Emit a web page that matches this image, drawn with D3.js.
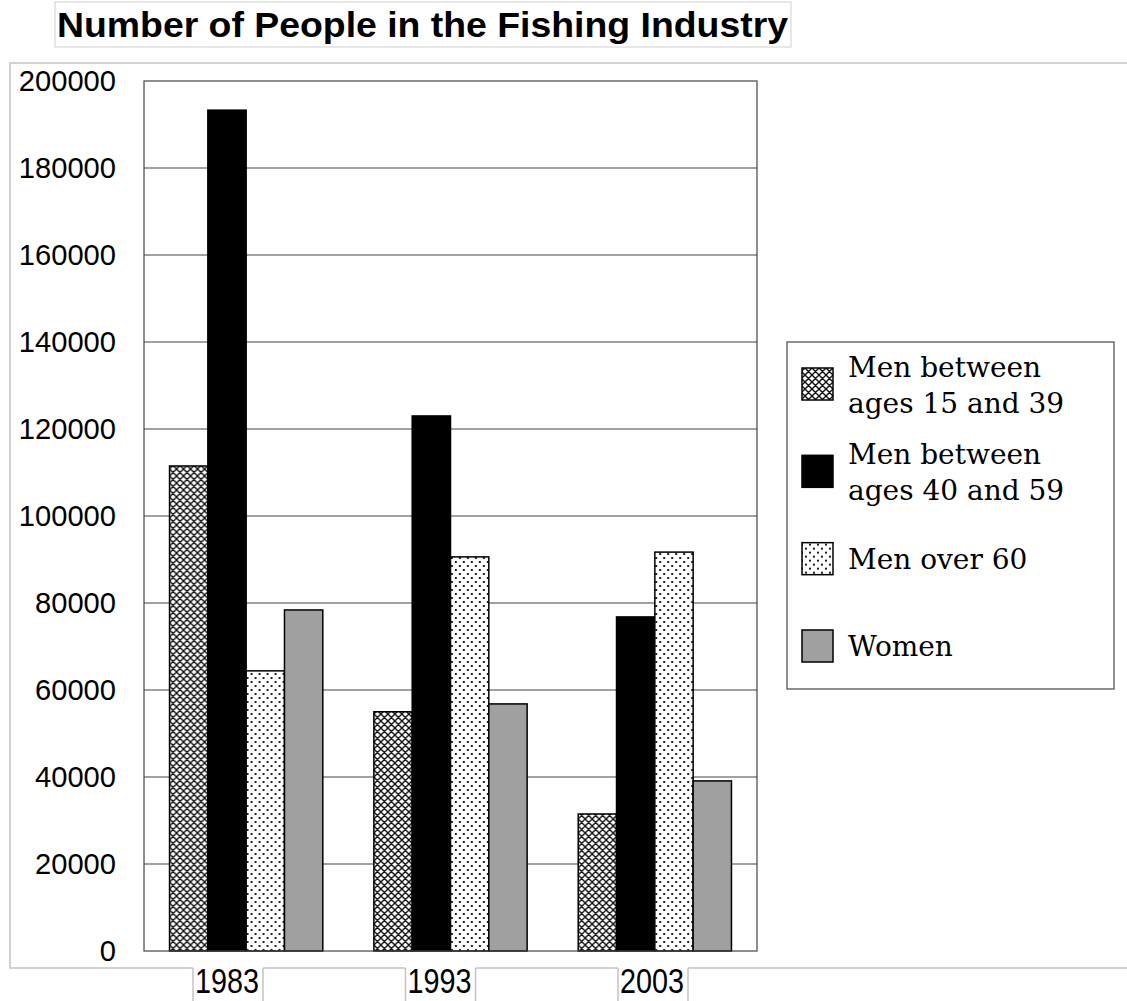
<html>
<head>
<script src="https://d3js.org/d3.v7.min.js"></script>
<style>body{margin:0;background:#fff;}</style>
</head>
<body>
<svg width="1127" height="1001"></svg>
<script>
var years = ["1983", "1993", "2003"];
var seriesNames = ["Men between ages 15 and 39", "Men between ages 40 and 59", "Men over 60", "Women"];
var legendLines = [["Men between", "ages 15 and 39"], ["Men between", "ages 40 and 59"], ["Men over 60"], ["Women"]];
var men15to39 = [111500, 55000, 31500];
var men40to59 = [193300, 123000, 76800];
var menOver60 = [64400, 90600, 91700];
var women = [78400, 56800, 39100];
var yTicks = [0, 20000, 40000, 60000, 80000, 100000, 120000, 140000, 160000, 180000, 200000];

var series = [men15to39, men40to59, menOver60, women];
var fills = ["url(#cross)", "#000", "url(#dots)", "#a0a0a0"];

var svg = d3.select("svg");
var plot = {left: 144, right: 757, top: 81, bottom: 951};

// patterns
var defs = svg.append("defs");
var cross = defs.append("pattern").attr("id", "cross").attr("patternUnits", "userSpaceOnUse")
	.attr("width", 7).attr("height", 7);
cross.append("rect").attr("width", 7).attr("height", 7).attr("fill", "#fff");
cross.append("path").attr("d", "M0,0L7,7M7,0L0,7M-1,6L1,8M6,-1L8,1M-1,1L1,-1M6,8L8,6")
	.attr("stroke", "#111").attr("stroke-width", 1.4);
var dots = defs.append("pattern").attr("id", "dots").attr("patternUnits", "userSpaceOnUse")
	.attr("width", 8).attr("height", 8);
dots.append("rect").attr("width", 8).attr("height", 8).attr("fill", "#fff");
dots.append("rect").attr("x", 1).attr("y", 1).attr("width", 2).attr("height", 2).attr("fill", "#222");
dots.append("rect").attr("x", 5).attr("y", 5).attr("width", 2).attr("height", 2).attr("fill", "#222");

// outer frame and title box
svg.append("path").attr("d", "M1127,63H10V968H1127").attr("fill", "none")
	.attr("stroke", "#c4c4c4").attr("stroke-width", 1.5);
svg.append("rect").attr("x", 55).attr("y", 2).attr("width", 736).attr("height", 45)
	.attr("fill", "#fff").attr("stroke", "#d0d0d0");
svg.append("text").attr("x", 57).attr("y", 37)
	.attr("font-family", "Liberation Sans, Arial, sans-serif").attr("font-weight", "bold")
	.attr("font-size", 35).attr("textLength", 731).attr("lengthAdjust", "spacingAndGlyphs")
	.text("Number of People in the Fishing Industry");

var y = d3.scaleLinear().domain([0, 200000]).range([plot.bottom, plot.top]);
var x0 = d3.scaleBand().domain(years).range([plot.left, plot.right]).paddingInner(0.25).paddingOuter(0.125);
var x1 = d3.scaleBand().domain(d3.range(series.length)).range([0, x0.bandwidth()]);
var xLabel = d3.scalePoint().domain(years).range([227, 652]);

// gridlines
svg.append("g").selectAll("line").data(yTicks.slice(1, -1)).join("line")
	.attr("x1", plot.left).attr("x2", plot.right)
	.attr("y1", function(d) { return y(d); }).attr("y2", function(d) { return y(d); })
	.attr("stroke", "#444").attr("stroke-width", 1.2);

// y labels
svg.append("g").selectAll("text").data(yTicks).join("text")
	.attr("x", 116).attr("y", function(d) { return y(d) + 9.5; })
	.attr("text-anchor", "end")
	.attr("font-family", "Liberation Sans, Arial, sans-serif").attr("font-size", 30)
	.attr("textLength", function(d) { return String(d).length * 16.2; })
	.attr("lengthAdjust", "spacingAndGlyphs")
	.text(function(d) { return d; });

// bars
var groups = svg.append("g").selectAll("g").data(years).join("g")
	.attr("transform", function(d) { return "translate(" + x0(d) + ",0)"; });
groups.selectAll("rect").data(function(d, i) {
		return series.map(function(s, k) { return {k: k, v: s[i]}; });
	}).join("rect")
	.attr("x", function(d) { return x1(d.k); })
	.attr("width", x1.bandwidth())
	.attr("y", function(d) { return y(d.v); })
	.attr("height", function(d) { return y(0) - y(d.v); })
	.attr("fill", function(d) { return fills[d.k]; })
	.attr("stroke", "#000").attr("stroke-width", 1.5);

// plot border
svg.append("rect").attr("x", plot.left).attr("y", plot.top)
	.attr("width", plot.right - plot.left).attr("height", plot.bottom - plot.top)
	.attr("fill", "none").attr("stroke", "#444").attr("stroke-width", 1.2);

// x labels in cells
var xl = svg.append("g").selectAll("g").data(years).join("g")
	.attr("transform", function(d) { return "translate(" + xLabel(d) + ",0)"; });
xl.append("rect").attr("x", -34).attr("y", 966).attr("width", 70).attr("height", 40).attr("fill", "#fff");
xl.append("path").attr("d", "M-34,968V1001M36,968V1001").attr("stroke", "#c4c4c4").attr("stroke-width", 1.5);
xl.append("text").attr("y", 993).attr("text-anchor", "middle")
	.attr("font-family", "Liberation Sans, Arial, sans-serif").attr("font-size", 35)
	.attr("textLength", 64).attr("lengthAdjust", "spacingAndGlyphs")
	.text(function(d) { return d; });

// legend
var legend = svg.append("g");
legend.append("rect").attr("x", 787).attr("y", 342).attr("width", 327).attr("height", 347)
	.attr("fill", "#fff").attr("stroke", "#555").attr("stroke-width", 1.3);
var ly = d3.scalePoint().domain(d3.range(seriesNames.length)).range([368, 630]);
var items = legend.selectAll("g.item").data(seriesNames).join("g").attr("class", "item")
	.attr("transform", function(d, i) { return "translate(0," + ly(i) + ")"; });
items.append("rect").attr("x", 802).attr("y", 0).attr("width", 31).attr("height", 32)
	.attr("fill", function(d, i) { return fills[i]; })
	.attr("stroke", "#000").attr("stroke-width", 1.5);
items.each(function(d, i) {
	var lines = legendLines[i];
	var t = d3.select(this).append("text")
		.attr("font-family", "DejaVu Serif, serif").attr("font-size", 28).attr("fill", "#000");
	lines.forEach(function(l, j) {
		var base = lines.length === 2 ? 9 + j * 36 : 26;
		t.append("tspan").attr("x", 848).attr("y", base).text(l);
	});
});
</script>
</body>
</html>
